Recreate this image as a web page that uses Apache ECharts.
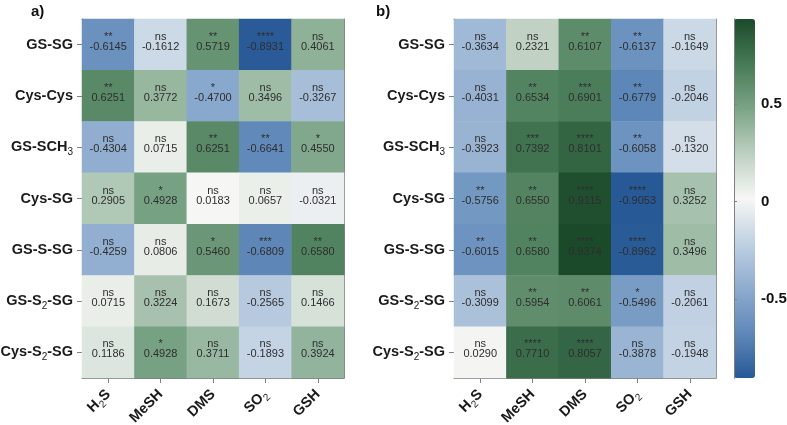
<!DOCTYPE html>
<html><head><meta charset="utf-8">
<script src="https://cdn.jsdelivr.net/npm/echarts@6/dist/echarts.min.js"></script>
<style>html,body{margin:0;padding:0;background:#fff}#c{width:787px;height:425px}</style>
</head><body><div id="c"></div><script>
const rowLabels = ['GS-SG','Cys-Cys','GS-SCH{sub|3}','Cys-SG','GS-S-SG','GS-S{sub|2}-SG','Cys-S{sub|2}-SG'];
const colLabels = ['H{sub|2}S','MeSH','DMS','SO{sub|2}','GSH'];

const valuesA = [
  [-0.6145, -0.1612, 0.5719, -0.8931, 0.4061],
  [ 0.6251,  0.3772, -0.4700, 0.3496, -0.3267],
  [-0.4304,  0.0715, 0.6251, -0.6641, 0.4550],
  [ 0.2905,  0.4928, 0.0183, 0.0657, -0.0321],
  [-0.4259,  0.0806, 0.5460, -0.6809, 0.6580],
  [ 0.0715,  0.3224, 0.1673, -0.2565, 0.1466],
  [ 0.1186,  0.4928, 0.3711, -0.1893, 0.3924]
];
const starsA = [
  ['**','ns','**','****','ns'],
  ['**','ns','*','ns','ns'],
  ['ns','ns','**','**','*'],
  ['ns','*','ns','ns','ns'],
  ['ns','ns','*','***','**'],
  ['ns','ns','ns','ns','ns'],
  ['ns','*','ns','ns','ns']
];
const valuesB = [
  [-0.3634, 0.2321, 0.6107, -0.6137, -0.1649],
  [-0.4031, 0.6534, 0.6901, -0.6779, -0.2046],
  [-0.3923, 0.7392, 0.8101, -0.6058, -0.1320],
  [-0.5756, 0.6550, 0.9115, -0.9053,  0.3252],
  [-0.6015, 0.6580, 0.9374, -0.8962,  0.3496],
  [-0.3099, 0.5954, 0.6061, -0.5496, -0.2061],
  [ 0.0290, 0.7710, 0.8057, -0.3878, -0.1948]
];
const starsB = [
  ['ns','ns','**','**','ns'],
  ['ns','**','***','**','ns'],
  ['ns','***','****','**','ns'],
  ['**','**','****','****','ns'],
  ['**','**','****','****','ns'],
  ['ns','**','**','*','ns'],
  ['ns','****','****','ns','ns']
];
const colorbarTicks = [-0.5, 0, 0.5];
const panelTitles = ['a)', 'b)'];

function build(vals, stars) {
  const out = [];
  vals.forEach((row, r) => row.forEach((v, c) => out.push([c, r, v, stars[r][c]])));
  return out;
}
const allVals = valuesA.flat().concat(valuesB.flat());
const vmin = Math.min(...allVals), vmax = Math.max(...allVals);

const FONT = '"Liberation Sans", Arial, sans-serif';
const axisGrey = '#808080';
const subRich = { sub: { fontSize: 10, fontWeight: 'normal', verticalAlign: 'bottom', lineHeight: 10, color: '#1a1a1a', fontFamily: FONT } };

function xBottom(gi) {
  return {
    type: 'category', gridIndex: gi, data: colLabels, position: 'bottom',
    axisLine: { show: true, lineStyle: { color: axisGrey, width: 1 } },
    axisTick: { show: true, alignWithLabel: true, length: 5, lineStyle: { color: axisGrey } },
    axisLabel: { rotate: 45, margin: 14, color: '#1a1a1a', fontWeight: 'bold', fontSize: 14.5, fontFamily: FONT, lineHeight: 20, rich: subRich },
    splitLine: { show: false }
  };
}
function xTop(gi) {
  return { type: 'category', gridIndex: gi, data: colLabels, position: 'top',
    axisLine: { show: true, lineStyle: { color: axisGrey, width: 1 } }, axisTick: { show: false }, axisLabel: { show: false } };
}
function yLeft(gi) {
  return {
    type: 'category', gridIndex: gi, data: rowLabels, inverse: true, position: 'left',
    axisLine: { show: true, lineStyle: { color: axisGrey, width: 1 } },
    axisTick: { show: true, alignWithLabel: true, length: 5, lineStyle: { color: axisGrey } },
    axisLabel: { margin: 9, color: '#1a1a1a', fontWeight: 'bold', fontSize: 14.5, fontFamily: FONT, lineHeight: 20, rich: subRich },
    splitLine: { show: false }
  };
}
function yRight(gi) {
  return { type: 'category', gridIndex: gi, data: rowLabels, inverse: true, position: 'right',
    axisLine: { show: true, lineStyle: { color: axisGrey, width: 1 } }, axisTick: { show: false }, axisLabel: { show: false } };
}

function heat(data, xi, yi) {
  return {
    type: 'heatmap', xAxisIndex: xi, yAxisIndex: yi, data: data,
    itemStyle: { borderWidth: 0 },
    emphasis: { disabled: true },
    label: {
      show: true, offset: [0, -2.5],
      formatter: p => '{s|' + p.data[3] + '}\n{v|' + p.data[2].toFixed(4) + '}',
      rich: {
        s: { fontSize: 11, lineHeight: 9, color: '#2e2e2e', fontFamily: FONT },
        v: { fontSize: 11, lineHeight: 11, color: '#2e2e2e', fontFamily: FONT }
      }
    }
  };
}

const chart = echarts.init(document.getElementById('c'), null, { renderer: 'canvas' });
chart.setOption({
  animation: false,
  backgroundColor: '#ffffff',
  textStyle: { fontFamily: FONT },
  grid: [
    { left: 82, top: 19, width: 262, height: 359, outerBoundsMode: 'none', containLabel: false },
    { left: 454, top: 19, width: 262, height: 359, outerBoundsMode: 'none', containLabel: false },
    { left: 734, top: 19, width: 21, height: 359, outerBoundsMode: 'none', containLabel: false }
  ],
  xAxis: [
    xBottom(0), xTop(0), xBottom(1), xTop(1),
    { type: 'value', gridIndex: 2, show: false, min: 0, max: 1 }
  ],
  yAxis: [
    yLeft(0), yRight(0), yLeft(1), yRight(1),
    { type: 'value', gridIndex: 2, position: 'right', min: vmin, max: vmax, z: 10,
      axisLine: { show: true, lineStyle: { color: axisGrey } },
      axisTick: { show: true, length: 3, customValues: colorbarTicks, lineStyle: { color: axisGrey } },
      axisLabel: { customValues: colorbarTicks, margin: 6, color: '#111', fontWeight: 'bold', fontSize: 15, fontFamily: FONT,
        formatter: v => (v === 0 ? '0' : String(v)) },
      splitLine: { show: false } },
    { type: 'value', gridIndex: 2, position: 'left', min: vmin, max: vmax, z: 10,
      axisLine: { show: true, lineStyle: { color: axisGrey } },
      axisTick: { show: true, inside: true, length: 2, customValues: colorbarTicks, lineStyle: { color: axisGrey } },
      axisLabel: { show: false }, splitLine: { show: false } }
  ],
  visualMap: {
    type: 'continuous', seriesIndex: [0, 1], dimension: 2, min: vmin, max: vmax,
    calculable: false, hoverLink: false, realtime: false,
    orient: 'vertical', left: 734, top: 19, itemWidth: 21, itemHeight: 359, padding: 0,
    text: null, showLabel: false, z: 1,
    inRange: { color: ['#275996', '#5f88b9', '#8eaccf', '#bfd0e2', '#f7f7f5', '#bdd0c1', '#7ba486', '#477a56', '#1b4a2b'] }
  },
  graphic: [
    { type: 'text', left: 31, top: 4, style: { text: panelTitles[0], font: 'bold 15px ' + FONT, fill: '#111' } },
    { type: 'text', left: 376, top: 4, style: { text: panelTitles[1], font: 'bold 15px ' + FONT, fill: '#111' } }
  ],
  series: [ heat(build(valuesA, starsA), 0, 0), heat(build(valuesB, starsB), 2, 2) ]
});
</script></body></html>
